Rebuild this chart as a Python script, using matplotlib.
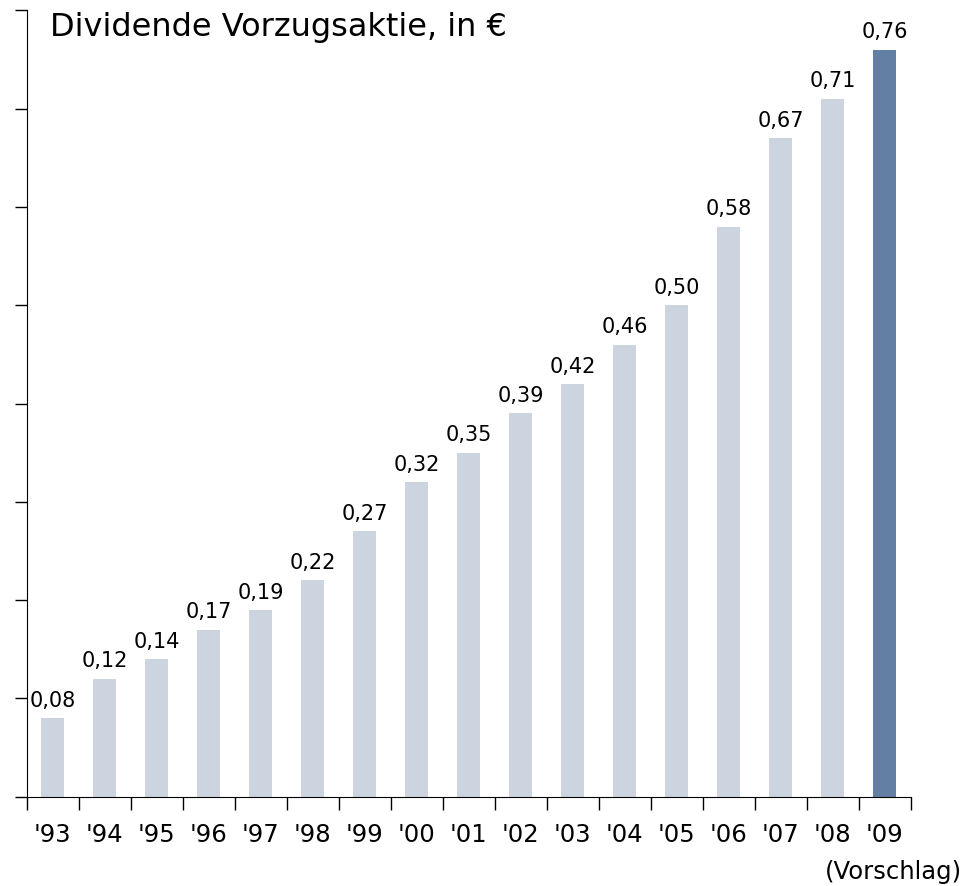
import matplotlib.pyplot as plt
import numpy as np

years = ["'93", "'94", "'95", "'96", "'97", "'98", "'99", "'00", "'01",
         "'02", "'03", "'04", "'05", "'06", "'07", "'08", "'09"]
dividends = [0.08, 0.12, 0.14, 0.17, 0.19, 0.22, 0.27, 0.32, 0.35,
             0.39, 0.42, 0.46, 0.50, 0.58, 0.67, 0.71, 0.76]

W, H = 972, 887
fig = plt.figure(figsize=(W / 100, H / 100), dpi=100)
ax = fig.add_axes([26.7 / W, (H - 797.7) / H, (910.7 - 26.7) / W, (797.7 - 11.3) / H])

x = np.arange(len(years))
colors = ['#ccd4e0'] * (len(years) - 1) + ['#647fa4']
ax.bar(x, dividends, width=0.44, color=colors)

for xi, v in zip(x, dividends):
    ax.annotate(f"{v:.2f}".replace('.', ','), (xi, v), xytext=(0, 6),
                textcoords='offset points', ha='center', va='bottom', fontsize=15)

ax.set_xlim(-0.5, len(years) - 0.5)
ax.set_ylim(0, 0.8)
ax.set_yticks(np.arange(0, 0.81, 0.1))
ax.set_yticklabels([])
ax.set_xticks(np.arange(-0.5, len(years), 1))
ax.set_xticklabels([])
ax.tick_params(axis='both', direction='out', length=9, width=1, color='black')
for xi, lab in zip(x, years):
    ax.text(xi, -0.032, lab, ha='center', va='top', fontsize=17.5,
            transform=ax.get_xaxis_transform())

for s in ['top', 'right']:
    ax.spines[s].set_visible(False)

fig.text(50 / W, 1 - 36 / H, "Dividende Vorzugsaktie, in €", fontsize=23,
         ha='left', va='baseline')
fig.text(962 / W, 1 - 872 / H, "(Vorschlag)", fontsize=17.5, ha='right', va='center')

fig.savefig('out.png', dpi=100)
